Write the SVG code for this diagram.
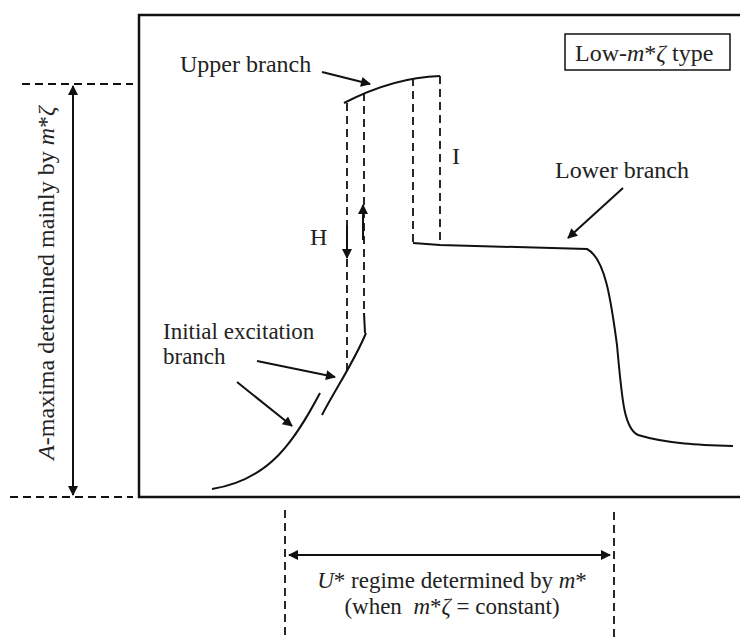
<svg xmlns="http://www.w3.org/2000/svg" width="740" height="637" viewBox="0 0 740 637">
<style>
text{font-family:'Liberation Serif','DejaVu Serif',serif;font-size:24px;fill:#222}
.it{font-style:italic}
.sm{font-size:23px}
.curve{fill:none;stroke:#111;stroke-width:2}
.dash{fill:none;stroke:#111;stroke-width:1.8;stroke-dasharray:8 5}
.arr{fill:none;stroke:#111;stroke-width:2}
</style>
<defs>
<marker id="ah" viewBox="0 0 10 10" refX="9" refY="5" markerWidth="14" markerHeight="10" markerUnits="userSpaceOnUse" orient="auto-start-reverse">
<path d="M0,0 L10,5 L0,10 Z" fill="#111"/>
</marker>
</defs>
<rect width="740" height="637" fill="#fff"/>
<g id="frame">
<path d="M740,15 H139 V497 H740" fill="none" stroke="#111" stroke-width="2.5"/>
</g>
<g id="legend">
<rect x="565" y="34" width="165" height="36" fill="#fff" stroke="#111" stroke-width="1.5"/>
<text x="575" y="61">Low-<tspan class="it">m</tspan>*<tspan class="it">ζ</tspan> type</text>
</g>
<g id="curves">
<path class="curve" d="M344,103 C375,87 405,77 440,76"/>
<path class="curve" d="M364,313 L365,333"/>
<path class="curve" d="M366,333 C355,360 335,390 322,415"/>
<path class="curve" d="M320,393 C295,440 270,480 212,489"/>
<path class="curve" d="M413,243 L440,245 L587,249 C605,258 611,300 617,345 C622,400 624,428 638,435 C668,444 700,445 733,446"/>
</g>
<g id="dashes">
<path class="dash" d="M347,103 V372"/>
<path class="dash" d="M364,93 V314"/>
<path class="dash" d="M413,78 V243"/>
<path class="dash" d="M440,76 V245"/>
</g>
<g id="connectors">
<path class="arr" d="M347,225 V258" marker-end="url(#ah)"/>
<path class="arr" d="M363,240 V205" marker-end="url(#ah)"/>
<path class="arr" d="M322,72 L370,84" marker-end="url(#ah)"/>
<path class="arr" d="M623,188 L568,238" marker-end="url(#ah)"/>
<path class="arr" d="M257,361 L335,377" marker-end="url(#ah)"/>
<path class="arr" d="M237,382 L292,426" marker-end="url(#ah)"/>
</g>
<g id="labels">
<text x="180" y="72">Upper branch</text>
<text x="555" y="178">Lower branch</text>
<text class="sm" x="163" y="339">Initial excitation</text>
<text class="sm" x="163" y="364">branch</text>
<text x="310" y="245">H</text>
<text x="452" y="164">I</text>
</g>
<g id="amax-dim">
<path class="dash" d="M22,84 H133"/>
<path class="dash" d="M10,497 H133"/>
<path class="arr" d="M73,86 V495" marker-start="url(#ah)" marker-end="url(#ah)"/>
<text transform="translate(54,283) rotate(-90)" text-anchor="middle"><tspan class="it">A</tspan>-maxima detemined mainly by <tspan class="it">m</tspan>*<tspan class="it">ζ</tspan></text>
</g>
<g id="u-dim">
<path class="dash" d="M285,510 V637"/>
<path class="dash" d="M614,512 V637"/>
<path class="arr" d="M289,555 H610" marker-start="url(#ah)" marker-end="url(#ah)"/>
<text class="sm" x="452" y="588" text-anchor="middle"><tspan class="it">U</tspan>* regime determined by <tspan class="it">m</tspan>*</text>
<text class="sm" x="452" y="614" text-anchor="middle">(when&#160; <tspan class="it">m</tspan>*<tspan class="it">ζ</tspan> = constant)</text>
</g>
</svg>
